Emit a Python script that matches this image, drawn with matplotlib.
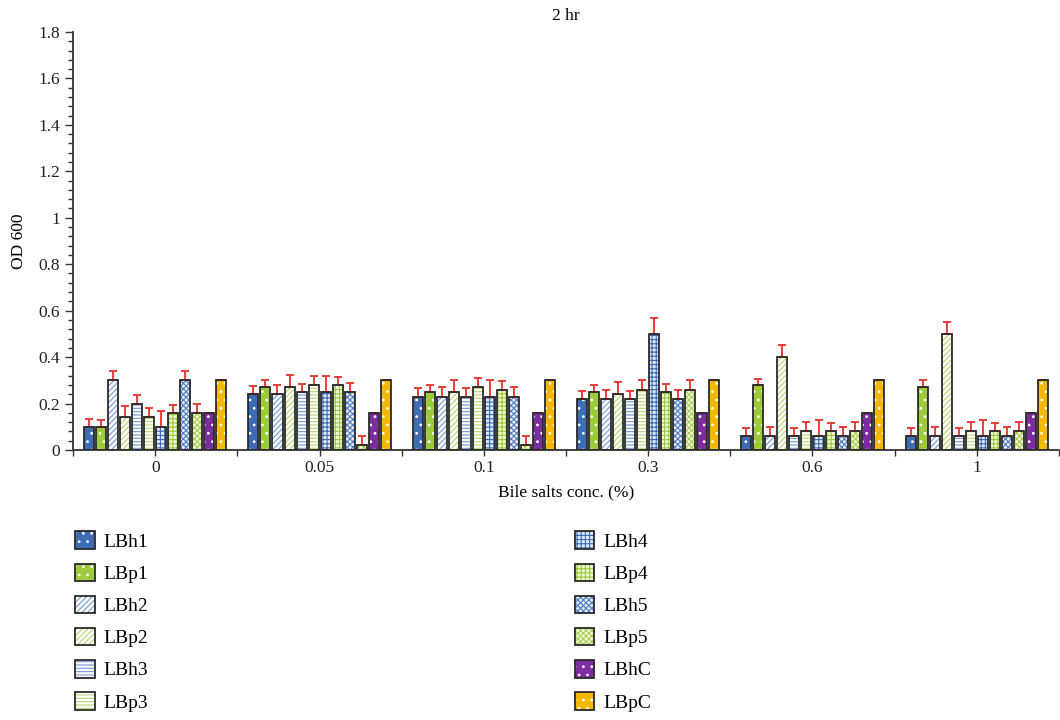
import matplotlib
matplotlib.use("Agg")
import matplotlib.pyplot as plt
import numpy as np
from matplotlib.patches import Patch
from matplotlib.legend_handler import HandlerTuple
from matplotlib.ticker import MultipleLocator, FuncFormatter

plt.rcParams['font.family'] = ['Liberation Serif', 'DejaVu Serif']
plt.rcParams['hatch.linewidth'] = 0.8

concs = ["0", "0.05", "0.1", "0.3", "0.6", "1"]
series = ["LBh1", "LBp1", "LBh2", "LBp2", "LBh3", "LBp3",
          "LBh4", "LBp4", "LBh5", "LBp5", "LBhC", "LBpC"]

# OD600 per series, one value per bile salt concentration
od = {
    "LBh1": [0.10, 0.24, 0.23, 0.22, 0.06, 0.06],
    "LBp1": [0.10, 0.27, 0.25, 0.25, 0.28, 0.27],
    "LBh2": [0.30, 0.24, 0.23, 0.22, 0.06, 0.06],
    "LBp2": [0.14, 0.27, 0.25, 0.24, 0.40, 0.50],
    "LBh3": [0.20, 0.25, 0.23, 0.22, 0.06, 0.06],
    "LBp3": [0.14, 0.28, 0.27, 0.26, 0.08, 0.08],
    "LBh4": [0.10, 0.25, 0.23, 0.50, 0.06, 0.06],
    "LBp4": [0.16, 0.28, 0.26, 0.25, 0.08, 0.08],
    "LBh5": [0.30, 0.25, 0.23, 0.22, 0.06, 0.06],
    "LBp5": [0.16, 0.02, 0.02, 0.26, 0.08, 0.08],
    "LBhC": [0.16, 0.16, 0.16, 0.16, 0.16, 0.16],
    "LBpC": [0.30, 0.30, 0.30, 0.30, 0.30, 0.30],
}
# upper error bars
err = {
    "LBh1": [0.035, 0.036, 0.036, 0.036, 0.036, 0.036],
    "LBp1": [0.030, 0.030, 0.030, 0.030, 0.027, 0.030],
    "LBh2": [0.040, 0.040, 0.040, 0.040, 0.040, 0.040],
    "LBp2": [0.050, 0.053, 0.050, 0.052, 0.050, 0.050],
    "LBh3": [0.037, 0.036, 0.036, 0.036, 0.036, 0.036],
    "LBp3": [0.040, 0.040, 0.040, 0.040, 0.040, 0.040],
    "LBh4": [0.070, 0.070, 0.070, 0.070, 0.070, 0.070],
    "LBp4": [0.035, 0.036, 0.036, 0.036, 0.036, 0.036],
    "LBh5": [0.040, 0.040, 0.040, 0.040, 0.040, 0.040],
    "LBp5": [0.040, 0.040, 0.040, 0.040, 0.040, 0.040],
    "LBhC": [0.0, 0.0, 0.0, 0.0, 0.0, 0.0],
    "LBpC": [0.0, 0.0, 0.0, 0.0, 0.0, 0.0],
}

# facecolor, hatch, hatch colour
styles = {
    "LBh1": ("#3d6cb4", "..", "white"),
    "LBp1": ("#9ccb3b", "..", "white"),
    "LBh2": ("white", "//////", "#7098d6"),
    "LBp2": ("white", "//////", "#b5d66c"),
    "LBh3": ("white", "-----", "#7098d6"),
    "LBp3": ("white", "-----", "#b5d66c"),
    "LBh4": ("#dfe8f6", "++++", "#3d6cb4"),
    "LBp4": ("#eef6d8", "++++", "#9ccb3b"),
    "LBh5": ("#e6edf8", "xxxxxx", "#4f7cc4"),
    "LBp5": ("#f2f8e2", "xxxxxx", "#a6d04a"),
    "LBhC": ("#7b2c9e", "..", "white"),
    "LBpC": ("#f5b800", "..", "white"),
}

fig = plt.figure(figsize=(10.6, 7.2), dpi=100)
ax = fig.add_axes([0.069, 0.375, 0.93, 0.5806])

x = np.arange(len(concs))
pitch = 0.0732
width = 0.061
handles = []
for j, name in enumerate(series):
    xs = x + (j - 5.5) * pitch
    fc, h, hc = styles[name]
    ax.bar(xs, od[name], width, color=fc, hatch=h, edgecolor=hc, linewidth=0, zorder=2)
    ax.bar(xs, od[name], width, fill=False, edgecolor="#2a2a2a", linewidth=1.3, zorder=4)
    e = np.array(err[name])
    ax.errorbar(xs, od[name], yerr=[np.zeros_like(e), e], fmt="none",
                ecolor="#e8302a", elinewidth=1.3, capsize=3, capthick=1.3, zorder=3)
    handles.append((Patch(facecolor=fc, hatch=h, edgecolor=hc, linewidth=0),
                    Patch(fill=False, edgecolor="#2a2a2a", linewidth=1.3)))

ax.set_xlim(-0.5, len(concs) - 0.5)
ax.set_ylim(0, 1.8)
ax.set_xticks(x)
ax.set_xticklabels(concs)
ax.set_xticks(np.arange(-0.5, len(concs), 1.0), minor=True)
ax.yaxis.set_major_locator(MultipleLocator(0.2))
ax.yaxis.set_minor_locator(MultipleLocator(0.04))
ax.yaxis.set_major_formatter(FuncFormatter(lambda v, p: "%g" % round(v, 2)))
for s in ["top", "right"]:
    ax.spines[s].set_visible(False)
for s in ["left", "bottom"]:
    ax.spines[s].set_color("#333333")
    ax.spines[s].set_linewidth(1.3)
ax.tick_params(axis="both", which="both", colors="#333333", labelcolor="#222222", labelsize=12.5)
ax.tick_params(axis="y", which="major", length=6, width=1.0)
ax.tick_params(axis="y", which="minor", length=3.5, width=1.0)
ax.tick_params(axis="x", which="both", length=4, width=1.0)

ax.set_xlabel("Bile salts conc. (%)", fontsize=12.5, labelpad=6)
ax.set_ylabel("OD 600", fontsize=12.5, labelpad=8)
ax.set_title("2 hr", fontsize=12.5, pad=4, y=1.015)

fig.legend(handles, series, handler_map={tuple: HandlerTuple(ndivide=1, pad=0)},
           loc="upper left", bbox_to_anchor=(0.071, 0.262), ncol=2, frameon=False,
           fontsize=14, handlelength=1.0, handleheight=1.0, handletextpad=0.45,
           labelspacing=0.66, columnspacing=21.95, borderpad=0, borderaxespad=0)

fig.savefig("out.png", dpi=100)
